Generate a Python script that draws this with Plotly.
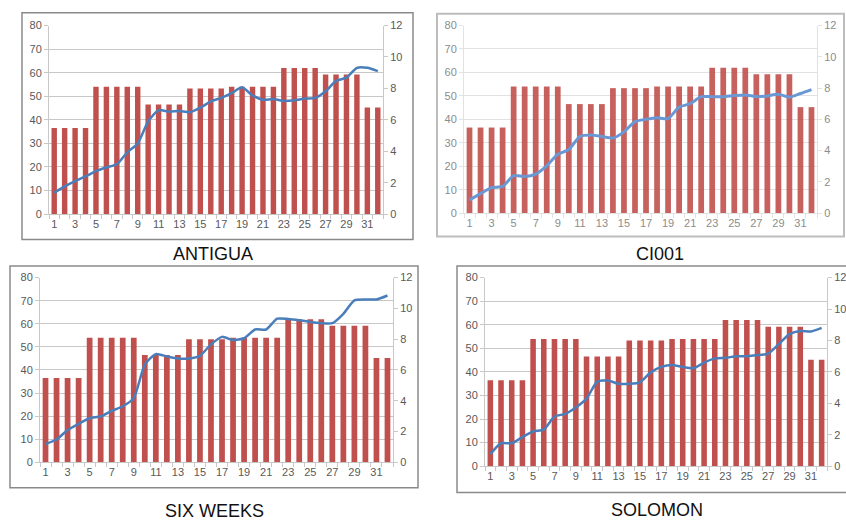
import plotly.graph_objects as go

days = list(range(1, 33))
bar_values = [36.5, 36.5, 36.5, 36.5, 54, 54, 54, 54, 54, 46.5, 46.5, 46.5, 46.5,
              53.3, 53.3, 53.3, 53.3, 54, 54, 54, 54, 54, 62, 62, 62, 62,
              59.2, 59.2, 59.2, 59.2, 45.2, 45.2]

antigua = [1.35, 1.76, 2.1, 2.4, 2.73, 2.98, 3.17, 3.93, 4.5, 5.9, 6.62, 6.52, 6.56,
           6.48, 6.77, 7.18, 7.4, 7.7, 8.07, 7.55, 7.28, 7.32, 7.2, 7.24, 7.35, 7.4,
           7.82, 8.48, 8.69, 9.31, 9.31, 9.1]
ci001 = [0.84, 1.25, 1.63, 1.71, 2.4, 2.34, 2.5, 3.03, 3.76, 4.07, 4.9, 5.0, 4.9,
         4.8, 5.2, 5.85, 6.0, 6.1, 6.05, 6.78, 7.0, 7.45, 7.45, 7.45, 7.52, 7.56,
         7.45, 7.5, 7.6, 7.42, 7.65, 7.9]
six_weeks = [1.19, 1.48, 2.1, 2.5, 2.86, 2.98, 3.34, 3.64, 4.17, 6.35, 7.03, 6.88, 6.75,
             6.75, 6.92, 7.66, 8.15, 7.94, 8.06, 8.63, 8.63, 9.33, 9.31, 9.23, 9.12, 9.04,
             9.04, 9.65, 10.52, 10.58, 10.58, 10.84]
solomon = [0.77, 1.46, 1.46, 1.85, 2.22, 2.33, 3.16, 3.33, 3.74, 4.3, 5.38, 5.45, 5.24,
           5.24, 5.34, 5.97, 6.32, 6.44, 6.32, 6.24, 6.59, 6.86, 6.9, 6.99, 7.0, 7.07,
           7.17, 7.78, 8.4, 8.6, 8.57, 8.8]

titles = ["ANTIGUA", "CI001", "SIX WEEKS", "SOLOMON"]
series = [antigua, ci001, six_weeks, solomon]
left_ticks = [0, 10, 20, 30, 40, 50, 60, 70, 80]
right_ticks = [0, 2, 4, 6, 8, 10, 12]
x_ticks = list(range(1, 33, 2))

W, H = 846, 523

# panel geometry in pixels: plot x0, x1, y_top, y_bottom; frame x0, x1, y0, y1; title center x, y
panels = [
    dict(px=(49, 383), py=(20, 213), fx=(22, 413), fy=(7, 239), t=(213, 254), dim=False),
    dict(px=(464, 817), py=(20, 212), fx=(437, 844), fy=(8, 236), t=(660, 254), dim=True),
    dict(px=(40, 393), py=(278, 467), fx=(10, 418), fy=(266, 493), t=(215, 517), dim=False),
    dict(px=(485, 827), py=(278, 471), fx=(457, 852), fy=(266, 498), t=(657, 516), dim=False),
]

fig = go.Figure()
layout = dict(
    width=W, height=H, margin=dict(l=0, r=0, t=0, b=0),
    paper_bgcolor="white", plot_bgcolor="white", showlegend=False,
    bargap=0.48,
)
shapes = []
annotations = []

font_fam = "Liberation Sans, Arial, sans-serif"

for i, (p, vals, title) in enumerate(zip(panels, series, titles)):
    xn = "x" if i == 0 else f"x{i+1}"
    yl = f"y{2*i+1}" if i > 0 else "y"
    yr = f"y{2*i+2}"
    xkey = "xaxis" if i == 0 else f"xaxis{i+1}"
    ylkey = "yaxis" if i == 0 else f"yaxis{2*i+1}"
    yrkey = f"yaxis{2*i+2}"
    tcol = "#8c8c8c" if p["dim"] else "#595959"
    gcol = "#e2e2e2" if p["dim"] else "#c8c8c8"

    fig.add_trace(go.Bar(x=days, y=bar_values, xaxis=xn, yaxis=yl,
                         marker=dict(color="#C0504D", line=dict(width=0)),
                         opacity=0.9 if p["dim"] else 1))
    fig.add_trace(go.Scatter(x=days, y=vals, xaxis=xn, yaxis=yr, mode="lines",
                             line=dict(color="#6A98D4" if p["dim"] else "#4A7EBB",
                                       width=3 if p["dim"] else 2.5,
                                       shape="spline", smoothing=0.6)))

    dx = [p["px"][0] / W, p["px"][1] / W]
    dy = [(H - p["py"][1]) / H, (H - p["py"][0]) / H]
    layout[xkey] = dict(domain=dx, anchor=yl, range=[0.5, 32.5],
                        tickvals=x_ticks, ticktext=[str(v) for v in x_ticks],
                        tickfont=dict(size=11, color=tcol, family=font_fam),
                        showgrid=False, zeroline=False, showline=True,
                        linecolor=gcol, linewidth=1, ticks="",
                        minor=dict(tickvals=[v + 0.5 for v in range(0, 33)],
                                   ticks="outside", ticklen=4, tickcolor=gcol))
    layout[ylkey] = dict(domain=dy, anchor=xn, range=[0, 80],
                         tickvals=left_ticks, showgrid=True, gridcolor=gcol,
                         gridwidth=1, zeroline=False, showline=True,
                         linecolor=gcol, ticks="outside", ticklen=4, tickcolor=gcol,
                         tickfont=dict(size=11, color=tcol, family=font_fam))
    layout[yrkey] = dict(domain=dy, anchor=xn, overlaying=yl, side="right",
                         range=[0, 12], tickvals=right_ticks, showgrid=False,
                         zeroline=False, showline=True, linecolor=gcol,
                         ticks="outside", ticklen=4, tickcolor=gcol,
                         tickfont=dict(size=11, color=tcol, family=font_fam))

    shapes.append(dict(type="rect", xref="paper", yref="paper",
                       x0=p["fx"][0] / W, x1=p["fx"][1] / W,
                       y0=(H - p["fy"][1]) / H, y1=(H - p["fy"][0]) / H,
                       line=dict(color="#bdbdbd" if p["dim"] else "#8a8a8a",
                                 width=2 if p["dim"] else 1.5),
                       fillcolor="rgba(0,0,0,0)", layer="below"))
    annotations.append(dict(text=title, xref="paper", yref="paper",
                            x=p["t"][0] / W, y=(H - p["t"][1]) / H,
                            xanchor="center", yanchor="middle", showarrow=False,
                            font=dict(size=18, color="#111111",
                                      family="Liberation Sans Narrow, Arial Narrow, Liberation Sans, sans-serif")))

layout["shapes"] = shapes
layout["annotations"] = annotations
fig.update_layout(**layout)
fig.write_html("out.html", config={"displayModeBar": False},
               post_script="document.body.style.margin='0';document.body.style.overflow='hidden';")
